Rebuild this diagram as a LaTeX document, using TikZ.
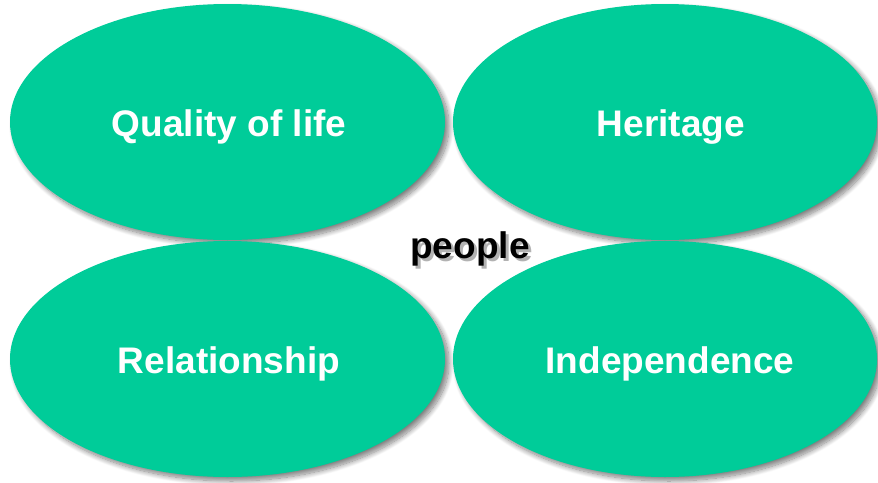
\documentclass[tikz,border=0pt]{standalone}
\usepackage{fontspec}
\setmainfont{Liberation Sans}
\usetikzlibrary{shapes.geometric,shadows.blur}
\definecolor{teal1}{RGB}{0,204,153}
\tikzset{
  blob/.style={ellipse, fill=teal1, draw=none, inner sep=0pt,
    blur shadow={shadow xshift=4pt, shadow yshift=-4pt, shadow opacity=50, shadow blur radius=5pt, shadow blur steps=12}},
  lbl/.style={anchor=base, text=white, font=\fontsize{37}{40}\selectfont\bfseries, inner sep=0pt},
  ctr/.style={anchor=base, text=black, font=\fontsize{37}{40}\selectfont\bfseries, inner sep=0pt}
}
\newcommand{\shadowtext}[1]{\rlap{\hspace{3pt}\raisebox{-3pt}{\textcolor{black!30}{#1}}}#1}
\begin{document}
\begin{tikzpicture}[x=1pt,y=-1pt]
\useasboundingbox (0,0) rectangle (878,482);
\node[blob, minimum width=435pt, minimum height=236pt] (e1) at (227.5,122) {};
\node[blob, minimum width=424pt, minimum height=236pt] (e2) at (665,122) {};
\node[blob, minimum width=435pt, minimum height=236pt] (e3) at (227.5,359) {};
\node[blob, minimum width=424pt, minimum height=236pt] (e4) at (665,359) {};
\node[lbl] (t1) at (229,136) {Quality of life};
\node[lbl] (t2) at (671,136) {Heritage};
\node[lbl] (t3) at (229,373) {Relationship};
\node[lbl] (t4) at (670,373) {Independence};
\node[ctr] (p) at (470,258) {\shadowtext{people}};
\end{tikzpicture}
\end{document}
